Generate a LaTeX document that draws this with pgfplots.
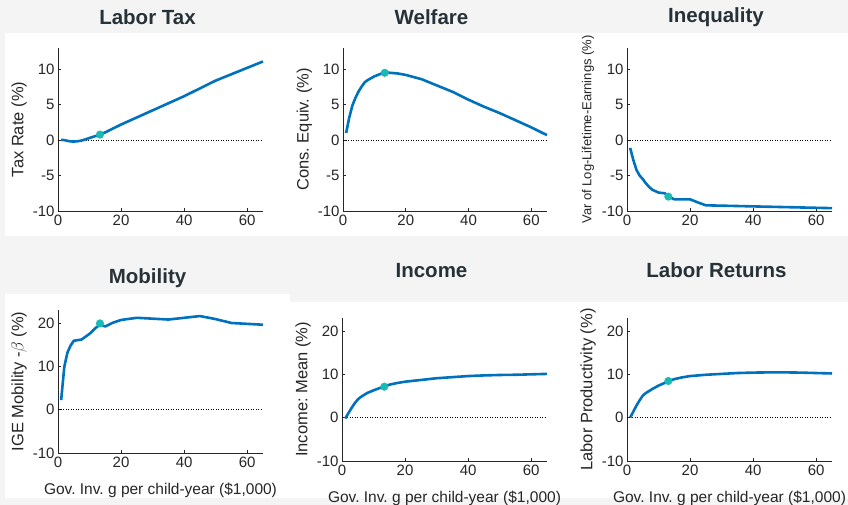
\documentclass[border=0pt]{standalone}
\usepackage{fontspec}
\setmainfont{Liberation Sans}
\usepackage{pgfplots}
\pgfplotsset{compat=1.18}
\frenchspacing
\definecolor{mblue}{RGB}{0,114,189}
\definecolor{mteal}{RGB}{24,186,180}
\definecolor{ttl}{RGB}{38,50,56}
\definecolor{bg}{RGB}{244,244,244}
\definecolor{axc}{RGB}{38,38,38}
\pgfplotsset{
  base/.style={
    scale only axis, anchor=south west,
    axis lines=left, axis line style={axc, line width=0.9pt, -},
    xmin=0, xmax=65, xtick={0,20,40,60},
    tick align=inside, major tick length=3pt, tick style={axc, line width=0.6pt},
    ticklabel style={font=\fontsize{15}{15}\selectfont, text=axc},
    /pgf/number format/assume math mode=true,
    ylabel style={font=\fontsize{16.5}{16.5}\selectfont, text=axc, at={(axis description cs:-0.19,0.5)}, anchor=center},
    xlabel style={font=\fontsize{15.5}{15.5}\selectfont, text=axc, at={(axis description cs:0.5,0)}, anchor=center, yshift=-37pt},
    clip=false,
  },
  toprow/.style={base, width=205pt, height=163pt, ymin=-10, ymax=13, ytick={-10,-5,0,5,10}},
  botrow/.style={base, width=205pt, height=143pt, ymin=-10, ymax=23, ytick={-10,0,10,20},
    xlabel={\frenchspacing Gov. Inv. g per child-year (\$1,000)}},
  zero/.style={black, line width=0.7pt, dash pattern=on 1pt off 1.5pt},
  curve/.style={mblue, line width=2.6pt, line join=round},
  opt/.style={only marks, mark=*, mark size=3.8pt, mark options={fill=mteal, draw=mteal}},
}
\begin{document}
\frenchspacing
\begin{tikzpicture}[x=1pt,y=1pt]
\path[use as bounding box] (0,0) rectangle (848,505);
\fill[bg] (0,0) rectangle (848,505);
\fill[white] (5,269) rectangle (848,472);
\fill[white] (5,7) rectangle (290,211);
\fill[white] (290,7) rectangle (848,203);

\node[font=\fontsize{20.5}{20.5}\selectfont\bfseries, text=ttl] at (147.5,488) {Labor Tax};
\node[font=\fontsize{20.5}{20.5}\selectfont\bfseries, text=ttl] at (431.5,488) {Welfare};
\node[font=\fontsize{20.5}{20.5}\selectfont\bfseries, text=ttl] at (716,488) {Inequality};
\node[font=\fontsize{20.5}{20.5}\selectfont\bfseries, text=ttl] at (147.5,227) {Mobility};
\node[font=\fontsize{20.5}{20.5}\selectfont\bfseries, text=ttl] at (431.5,234.5) {Income};
\node[font=\fontsize{20.5}{20.5}\selectfont\bfseries, text=ttl] at (716.5,234.5) {Labor Returns};

% Labor Tax
\begin{axis}[toprow, at={(58pt,294pt)}, ylabel={Tax Rate (\%)}]
\addplot[zero] coordinates {(0,0) (65,0)};
\addplot[curve] coordinates {(1,0.05) (2,0.0) (3,-0.1) (4,-0.18) (5,-0.2) (6,-0.17) (7,-0.1) (8,0.0) (10,0.3) (13.3,0.78) (15,1.1) (20,2.2) (25,3.2) (30,4.2) (35,5.2) (40,6.2) (45,7.3) (50,8.4) (55,9.3) (60,10.2) (65,11.1)};
\addplot[opt] coordinates {(13.3,0.78)};
\end{axis}

% Welfare
\begin{axis}[toprow, at={(343pt,294pt)}, width=204pt, ylabel={\frenchspacing Cons. Equiv. (\%)}]
\addplot[zero] coordinates {(0,0) (65,0)};
\addplot[curve] coordinates {(1,1.0) (2,3.2) (3,4.9) (4,6.0) (5,6.9) (6,7.6) (7,8.2) (8,8.5) (10,9.0) (12,9.35) (13.3,9.5) (15,9.5) (17.5,9.4) (20,9.2) (25,8.6) (30,7.7) (35,6.8) (40,5.7) (45,4.7) (50,3.8) (55,2.8) (60,1.8) (65,0.7)};
\addplot[opt] coordinates {(13.3,9.5)};
\end{axis}

% Inequality
\begin{axis}[toprow, at={(627pt,294pt)}, ylabel={Var of Log-Lifetime-Earnings (\%)},
  ylabel style={font=\fontsize{13}{13}\selectfont}]
\addplot[zero] coordinates {(0,0) (65,0)};
\addplot[curve] coordinates {(1,-1.1) (2,-2.8) (3,-4.2) (4,-5.0) (5,-5.5) (6,-6.1) (7,-6.6) (8,-7.0) (10,-7.4) (12,-7.5) (13.3,-8.0) (15,-8.35) (20,-8.35) (22.5,-8.8) (25,-9.2) (30,-9.25) (40,-9.35) (50,-9.45) (60,-9.55) (65,-9.6)};
\addplot[opt] coordinates {(13.1,-7.97)};
\end{axis}

% Mobility
\begin{axis}[botrow, at={(58pt,52pt)}, ylabel={IGE Mobility -$\beta$ (\%)}]
\addplot[zero] coordinates {(0,0) (65,0)};
\addplot[curve] coordinates {(1,2.2) (2,9.9) (3,13.2) (4,14.8) (5,15.9) (7.5,16.2) (10,17.5) (12,18.9) (13.3,19.6) (15,19.2) (17.5,20.1) (20,20.7) (25,21.2) (30,21.0) (35,20.8) (40,21.2) (45,21.6) (50,20.9) (55,20.0) (60,19.8) (65,19.6)};
\addplot[opt] coordinates {(13.3,19.9)};
\end{axis}

% Income
\begin{axis}[botrow, at={(342pt,44pt)}, ylabel={Income: Mean (\%)}]
\addplot[zero] coordinates {(0,0) (65,0)};
\addplot[curve] coordinates {(1,-0.2) (2,1.0) (3,2.2) (4,3.3) (5,4.2) (6,4.8) (8,5.7) (10,6.3) (13.3,7.2) (15,7.6) (17.5,8.0) (20,8.3) (25,8.7) (30,9.1) (35,9.35) (40,9.6) (45,9.75) (50,9.85) (55,9.9) (60,10.0) (65,10.1)};
\addplot[opt] coordinates {(13.4,7.15)};
\end{axis}

% Labor Returns
\begin{axis}[botrow, at={(627pt,44pt)}, ylabel={Labor Productivity (\%)}]
\addplot[zero] coordinates {(0,0) (65,0)};
\addplot[curve] coordinates {(1,0.0) (2,1.4) (3,2.8) (4,4.0) (5,5.1) (6,5.7) (8,6.6) (10,7.4) (13.3,8.45) (15,8.9) (17.5,9.3) (20,9.6) (25,9.9) (30,10.1) (35,10.3) (40,10.4) (45,10.45) (50,10.45) (55,10.4) (60,10.3) (65,10.2)};
\addplot[opt] coordinates {(13.1,8.46)};
\end{axis}
\end{tikzpicture}
\end{document}
